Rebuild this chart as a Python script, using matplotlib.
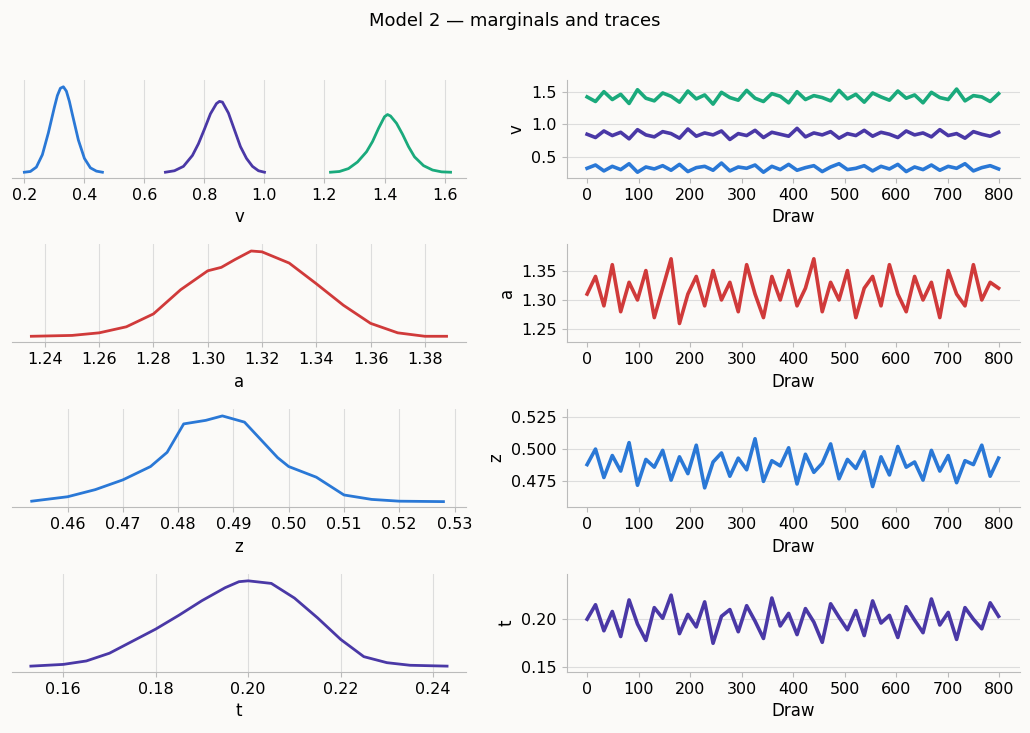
import numpy as np
import matplotlib.pyplot as plt

BG = "#fbfaf8"
BLUE, PURPLE, GREEN, RED = "#2a78d6", "#4a38a6", "#1aaa7c", "#d03a3a"

# KDE curves (x, density)
v0_x = [0.20,0.22,0.24,0.26,0.28,0.30,0.31,0.32,0.33,0.34,0.35,0.36,0.38,0.40,0.42,0.44,0.46]
v0_y = [0.1,0.2,0.8,2.5,5.5,9.0,10.6,11.6,11.8,11.2,9.8,8.0,4.5,2.0,0.7,0.25,0.1]
v1_x = [0.67,0.70,0.73,0.76,0.78,0.80,0.82,0.84,0.85,0.86,0.88,0.90,0.92,0.94,0.96,0.98,1.00]
v1_y = [0.1,0.3,0.9,2.4,4.0,6.0,8.1,9.5,9.8,9.7,8.2,5.9,3.6,2.0,0.9,0.3,0.1]
v2_x = [1.22,1.25,1.28,1.31,1.34,1.36,1.38,1.40,1.41,1.42,1.44,1.46,1.48,1.50,1.53,1.56,1.59,1.62]
v2_y = [0.1,0.2,0.6,1.5,2.9,4.3,6.1,7.7,8.0,7.8,6.8,5.3,3.6,2.2,1.0,0.4,0.15,0.1]
a_x = [1.235,1.25,1.26,1.27,1.28,1.29,1.30,1.305,1.31,1.316,1.32,1.33,1.34,1.35,1.36,1.37,1.38,1.388]
a_y = [0.01,0.02,0.05,0.12,0.27,0.55,0.77,0.81,0.9,1.0,0.99,0.86,0.62,0.37,0.16,0.05,0.01,0.01]
z_x = [0.4535,0.46,0.465,0.47,0.475,0.478,0.481,0.485,0.488,0.492,0.495,0.498,0.50,0.505,0.51,0.515,0.52,0.528]
z_y = [0.01,0.06,0.14,0.25,0.40,0.56,0.88,0.92,0.97,0.90,0.70,0.50,0.40,0.28,0.08,0.03,0.01,0.005]
t_x = [0.153,0.16,0.165,0.17,0.175,0.18,0.185,0.19,0.195,0.198,0.20,0.205,0.21,0.215,0.22,0.225,0.23,0.235,0.243]
t_y = [0.01,0.03,0.07,0.16,0.30,0.44,0.60,0.77,0.92,0.99,1.0,0.97,0.80,0.57,0.32,0.12,0.05,0.02,0.01]

# Trace samples (approximate readings)
v0_tr = [0.33,0.38,0.29,0.36,0.31,0.40,0.27,0.35,0.32,0.37,0.30,0.39,0.28,0.34,0.36,0.30,0.41,0.29,0.35,0.33,
         0.38,0.27,0.36,0.31,0.39,0.30,0.34,0.37,0.28,0.35,0.40,0.31,0.33,0.37,0.29,0.36,0.32,0.39,0.28,0.35,
         0.31,0.38,0.30,0.36,0.33,0.40,0.29,0.34,0.37,0.32]
v1_tr = [0.85,0.80,0.90,0.83,0.88,0.78,0.92,0.84,0.81,0.89,0.86,0.79,0.93,0.82,0.87,0.84,0.90,0.77,0.86,0.83,
         0.91,0.80,0.88,0.85,0.82,0.94,0.81,0.87,0.84,0.89,0.79,0.86,0.83,0.91,0.82,0.88,0.85,0.80,0.90,0.84,
         0.87,0.81,0.92,0.83,0.86,0.79,0.89,0.85,0.82,0.88]
v2_tr = [1.42,1.35,1.50,1.38,1.46,1.32,1.53,1.40,1.36,1.48,1.43,1.34,1.51,1.39,1.45,1.31,1.49,1.41,1.37,1.52,
         1.40,1.35,1.47,1.43,1.33,1.50,1.38,1.44,1.41,1.36,1.52,1.39,1.46,1.34,1.48,1.42,1.37,1.51,1.40,1.45,
         1.33,1.49,1.41,1.38,1.54,1.36,1.44,1.42,1.35,1.47]
a_tr = [1.31,1.34,1.29,1.36,1.28,1.33,1.30,1.35,1.27,1.32,1.37,1.26,1.31,1.34,1.29,1.35,1.30,1.33,1.28,1.36,
        1.31,1.27,1.34,1.30,1.35,1.29,1.32,1.37,1.28,1.33,1.30,1.35,1.27,1.32,1.34,1.29,1.36,1.31,1.28,1.34,
        1.30,1.33,1.27,1.35,1.31,1.29,1.36,1.30,1.33,1.32]
z_tr = [0.488,0.500,0.478,0.495,0.483,0.505,0.472,0.492,0.486,0.499,0.476,0.494,0.481,0.503,0.470,0.490,0.497,0.479,
        0.493,0.484,0.508,0.475,0.491,0.487,0.501,0.473,0.496,0.482,0.489,0.504,0.477,0.492,0.485,0.498,0.471,0.494,
        0.480,0.502,0.486,0.490,0.476,0.499,0.483,0.495,0.474,0.491,0.488,0.503,0.479,0.493]
t_tr = [0.200,0.215,0.188,0.208,0.182,0.220,0.195,0.178,0.212,0.201,0.225,0.185,0.205,0.192,0.218,0.175,0.203,0.210,
        0.187,0.214,0.198,0.180,0.222,0.193,0.206,0.184,0.211,0.197,0.176,0.216,0.202,0.189,0.209,0.183,0.219,0.196,
        0.204,0.181,0.213,0.199,0.186,0.221,0.194,0.207,0.179,0.212,0.200,0.190,0.217,0.203]
n_draws = 800

plt.rcParams['font.family'] = ['DejaVu Sans']
fig = plt.figure(figsize=(10.3, 7.33), dpi=100, facecolor=BG)
fig.suptitle("Model 2 — marginals and traces", y=0.983, fontsize=13)

rows_bottom = [0.757, 0.533, 0.308, 0.083]
h = 0.134
kde_sets = [[(v0_x, v0_y, BLUE), (v1_x, v1_y, PURPLE), (v2_x, v2_y, GREEN)],
            [(a_x, a_y, RED)], [(z_x, z_y, BLUE)], [(t_x, t_y, PURPLE)]]
trace_sets = [[(v0_tr, BLUE), (v1_tr, PURPLE), (v2_tr, GREEN)],
              [(a_tr, RED)], [(z_tr, BLUE)], [(t_tr, PURPLE)]]
names = ["v", "a", "z", "t"]
trace_ylims = [(0.18, 1.68), (1.228, 1.395), (0.455, 0.531), (0.145, 0.247)]

for i in range(4):
    axl = fig.add_axes([0.012, rows_bottom[i], 0.44, h])
    axr = fig.add_axes([0.55, rows_bottom[i], 0.44, h])
    for ax in (axl, axr):
        ax.set_facecolor(BG)
        ax.tick_params(labelsize=11.5, color="#bbbbbb")
        for s in ax.spines.values():
            s.set_color("#bbbbbb")
        ax.spines['top'].set_visible(False)
        ax.spines['right'].set_visible(False)
    ymax = 0
    for x, y, c in kde_sets[i]:
        axl.plot(x, y, color=c, lw=2)
        ymax = max(ymax, max(y))
    axl.set_ylim(-0.06 * ymax, ymax * 1.08)
    axl.set_yticks([])
    axl.spines['left'].set_visible(False)
    axl.grid(axis='x', color="#dddddd", lw=0.8)
    axl.set_axisbelow(True)
    axl.set_xlabel(names[i], fontsize=12)
    for tr, c in trace_sets[i]:
        xs = np.linspace(0, n_draws - 1, len(tr))
        axr.plot(xs, tr, color=c, lw=2.6, solid_joinstyle='round')
    axr.set_xticks(range(0, 801, 100))
    axr.set_xlim(-40, 840)
    axr.set_ylim(*trace_ylims[i])
    axr.grid(axis='y', color="#dddddd", lw=0.8)
    axr.set_axisbelow(True)
    axr.set_xlabel("Draw", fontsize=12)
    axr.set_ylabel(names[i], fontsize=12)
    if i == 0:
        axl.set_xticks([0.2, 0.4, 0.6, 0.8, 1.0, 1.2, 1.4, 1.6])
        axl.set_xlim(0.16, 1.67)
        axr.set_yticks([0.5, 1.0, 1.5])
    elif i == 1:
        axl.set_xticks([1.24, 1.26, 1.28, 1.30, 1.32, 1.34, 1.36, 1.38])
        axl.set_xlim(1.228, 1.395)
        axr.set_yticks([1.25, 1.30, 1.35])
    elif i == 2:
        axl.set_xticks([0.46, 0.47, 0.48, 0.49, 0.50, 0.51, 0.52, 0.53])
        axl.set_xlim(0.450, 0.532)
        axr.set_yticks([0.475, 0.500, 0.525])
    else:
        axl.set_xticks([0.16, 0.18, 0.20, 0.22, 0.24])
        axl.set_xlim(0.149, 0.247)
        axr.set_yticks([0.15, 0.20])

fig.savefig("out.png", dpi=100, facecolor=BG)
